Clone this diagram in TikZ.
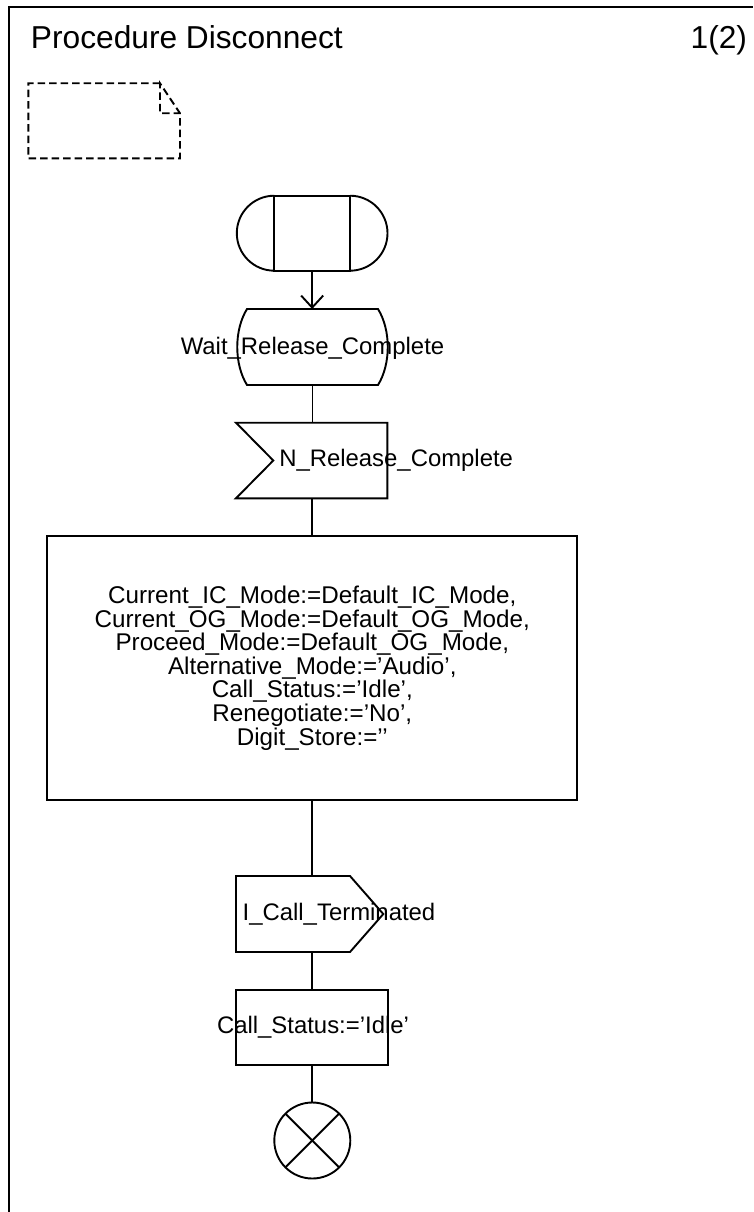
\documentclass[tikz,border=0pt]{standalone}
\usepackage{fontspec}
\setmainfont{Liberation Sans}
\usetikzlibrary{arrows.meta}
\begin{document}
\begin{tikzpicture}[x=1pt,y=1pt,line width=1.9pt,line join=miter,
  lbl/.style={font=\fontsize{23.9}{23.6}\selectfont, inner sep=0pt},
  tasklbl/.style={font=\fontsize{24.2}{23.6}\selectfont},
  ttl/.style={font=\fontsize{31.7}{36}\selectfont, inner sep=0pt},
  hid/.style={inner sep=0pt, outer sep=0pt},
  box/.style={draw, inner sep=0pt, outer sep=0pt},
  notedash/.style={dash pattern=on 7.5pt off 4pt},
  arr/.style={-{Straight Barb[length=12pt,width=22pt]}}]
\useasboundingbox (0,0) rectangle (753,-1212);
% frame
\draw[line width=2pt] (9,-1212) -- (9,-6.7) -- (753,-6.7);
\node[ttl, anchor=base west] (title) at (30,-49) {Procedure Disconnect};
\node[ttl, anchor=base east] (page) at (748,-48.5) {1(2)};
% text symbol (note)
\draw[notedash] (160,-83.3) -- (28.3,-83.3) -- (28.3,-158.3) -- (180,-158.3) -- (180,-113.3) -- (160,-83.3) -- (160,-113.3) -- (180,-113.3);
% start
\node[box, minimum width=75.7pt, minimum height=75pt] (start) at (312.15,-233.2) {};
\draw (start.north east) arc[start angle=90, end angle=-90, radius=37.5pt];
\draw (start.south west) arc[start angle=270, end angle=90, radius=37.5pt];
% state
\node[hid, minimum width=131pt, minimum height=76pt] (state) at (312.5,-347) {};
\draw (state.north west) -- (state.north east) .. controls +(13,-21) and +(13,21) .. (state.south east) -- (state.south west) .. controls +(-13,21) and +(-13,-21) .. (state.north west) -- cycle;
\node[lbl, anchor=base] (stateT) at (312.5,-354) {Wait\_Release\_Complete};
% input
\node[hid, minimum width=151.3pt, minimum height=75.6pt] (input) at (311.65,-460.5) {};
\coordinate (inNotch) at (273.3,-460.5);
\draw (input.north west) -- (input.north east) -- (input.south east) -- (input.south west) -- (inNotch) -- cycle;
\node[lbl, anchor=base west] (inputT) at (278.3,-466.7) {N\_Release\_Complete};
% task
\node[box, tasklbl, align=center, minimum width=530pt, minimum height=264pt] (task) at (312.3,-668) {Current\_IC\_Mode:=Default\_IC\_Mode,\\Current\_OG\_Mode:=Default\_OG\_Mode,\\Proceed\_Mode:=Default\_OG\_Mode,\\Alternative\_Mode:=’Audio’,\\Call\_Status:=’Idle’,\\Renegotiate:=’No’,\\Digit\_Store:=’’};
% output
\node[hid, minimum width=147.3pt, minimum height=76pt] (output) at (309.65,-914) {};
\coordinate (outTop) at (350,-876);
\coordinate (outBot) at (350,-952);
\draw (output.north west) -- (outTop) -- (output.east) -- (outBot) -- (output.south west) -- cycle;
\node[lbl, anchor=base west] (outputT) at (241.7,-920) {I\_Call\_Terminated};
% task 2
\node[box, minimum width=151.7pt, minimum height=75pt] (task2) at (311.85,-1027.5) {};
\node[lbl, anchor=base] (task2T) at (313,-1033) {Call\_Status:=’Idle’};
% stop
\node[box, circle, minimum size=76pt] (stop) at (312.3,-1140.5) {};
\draw (stop.north west) -- (stop.south east);
\draw (stop.north east) -- (stop.south west);
% connectors
\draw[arr] (start.south) -- (start.south |- state.north);
\draw (state.south) -- (state.south |- input.north);
\draw (task.north |- input.south) -- (task.north);
\draw (task.south) -- (task.south |- output.north);
\draw (task.south |- output.south) -- (task.south |- task2.north);
\draw (task2.south -| stop.north) -- (stop.north);
\end{tikzpicture}
\end{document}
